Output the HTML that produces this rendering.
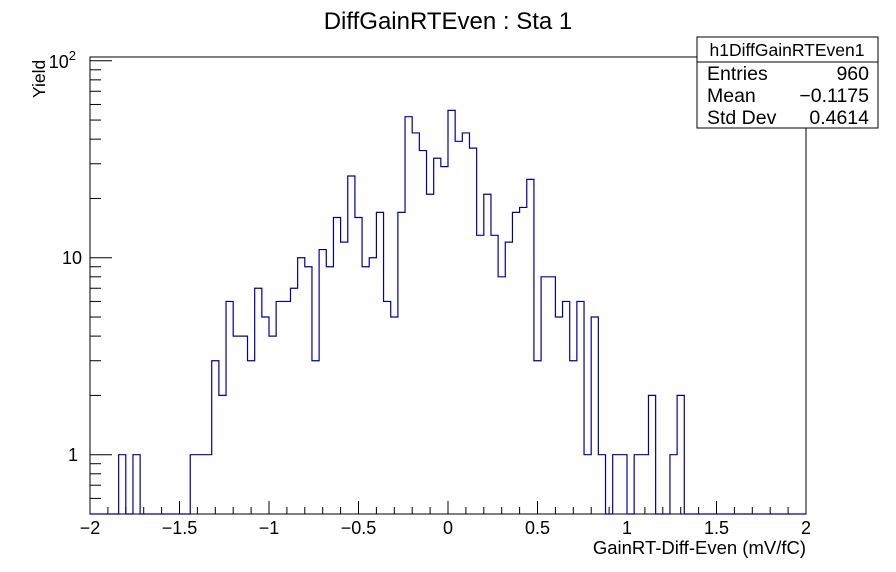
<!DOCTYPE html>
<html><head><meta charset="utf-8"><style>
body{margin:0;background:#fff;}
svg{display:block;font-family:"Liberation Sans",Arial,sans-serif;}
</style></head><body>
<svg id="c" width="896" height="572" viewBox="0 0 896 572">
<rect x="0" y="0" width="896" height="572" fill="#fff"/>
<text x="448" y="29" text-anchor="middle" font-size="24">DiffGainRTEven : Sta 1</text>
<rect x="90" y="57" width="716" height="457" fill="none" stroke="#000" stroke-width="1"/>
<g id="axes"></g>
<path id="hist" fill="none" stroke="#0000a0" stroke-width="1.2"/>
<text x="806" y="554" text-anchor="end" font-size="18.5">GainRT-Diff-Even (mV/fC)</text>
<text transform="translate(45,98) rotate(-90)" font-size="17.5">Yield</text>
<g>
<rect x="697" y="37" width="181" height="91" fill="#fff" stroke="#000"/>
<line x1="697" y1="62" x2="878" y2="62" stroke="#000"/>
<text x="787" y="56" text-anchor="middle" font-size="17.5">h1DiffGainRTEven1</text>
<text x="707" y="80" font-size="19.5">Entries</text><text x="869" y="80" text-anchor="end" font-size="19.5">960</text>
<text x="707" y="102" font-size="19.5">Mean</text><text x="869" y="102" text-anchor="end" font-size="19.5">−0.1175</text>
<text x="707" y="124" font-size="19.5">Std Dev</text><text x="869" y="124" text-anchor="end" font-size="19.5">0.4614</text>
</g>
</svg>
<script>
const binCounts=[0,0,0,0,1,0,1,0,0,0,0,0,0,0,1,1,1,3,2,6,4,4,3,7,5,4,6,6,7,10,9,3,11,9,16,12,26,16,9,10,17,6,5,17,52,43,35,21,32,29,56,39,43,36,13,21,13,8,12,17,18,25,3,8,8,5,6,3,6,1,5,1,0,1,1,0,1,1,2,0,0,1,2,0,0,0,0,0,0,0,0,0,0,0,0,0,0,0,0,0];
const xTickValues=[-2,-1.5,-1,-0.5,0,0.5,1,1.5,2];
const xTickLabels=["−2","−1.5","−1","−0.5","0","0.5","1","1.5","2"];
const yTickValues=[1,10,100];
const xMin=-2,xMax=2,yMin=0.5,yMax=104.5;
const L=90,R=806,T=57,B=514;
function X(v){return L+(v-xMin)/(xMax-xMin)*(R-L);}
function Y(v){v=Math.max(v,yMin);return B-(Math.log10(v)-Math.log10(yMin))/(Math.log10(yMax)-Math.log10(yMin))*(B-T);}
const NS="http://www.w3.org/2000/svg";
const ax=document.getElementById('axes');
function ln(x1,y1,x2,y2){const l=document.createElementNS(NS,'line');l.setAttribute('x1',x1);l.setAttribute('y1',y1);l.setAttribute('x2',x2);l.setAttribute('y2',y2);l.setAttribute('stroke','#000');


ax.appendChild(l);}
function tx(x,y,s,anchor,size){const t=document.createElementNS(NS,'text');t.setAttribute('x',x);t.setAttribute('y',y);t.setAttribute('text-anchor',anchor);t.setAttribute('font-size',size);t.innerHTML=s;


ax.appendChild(t);}
for(let i=0;i<=40;i++){const v=xMin+i*0.1;const x=X(v);ln(x,B,x,B-(i%5==0?13:7));}
xTickValues.forEach((v,i)=>tx(X(v),534,xTickLabels[i],'middle',18));
for(let d=-1;d<=2;d++){for(let m=1;m<=9;m++){const v=m*Math.pow(10,d);if(v<yMin||v>yMax)continue;const y=Y(v);ln(L,y,L+(m==1?22:11),y);}}
tx(78,461,'1','end',18);tx(82,264,'10','end',18);
tx(76,68,'10<tspan dy="-8" font-size="13">2</tspan>','end',18);
const n=binCounts.length,w=(xMax-xMin)/n;
let d='M'+X(xMin)+','+Y(0);
binCounts.forEach((c,i)=>{const x0=X(xMin+i*w),x1=X(xMin+(i+1)*w),y=Y(c);d+=' L'+x0+','+y+' L'+x1+','+y;});
d+=' L'+X(xMax)+','+Y(0);
document.getElementById('hist').setAttribute('d',d);
</script>
</body></html>
